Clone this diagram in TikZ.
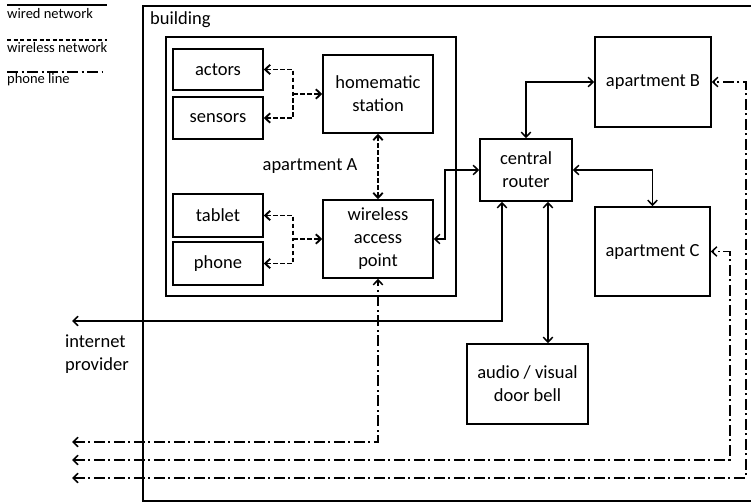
\documentclass[tikz,border=0pt]{standalone}
\usepackage{fontspec}
\setmainfont{Carlito}
\usetikzlibrary{arrows.meta}
\newcommand\diagfont{\fontsize{18.5}{23}\selectfont}
\newcommand\legfont{\fontsize{14.5}{17}\selectfont}
\begin{document}
\begin{tikzpicture}[x=1pt,y=-1pt,
  >={Straight Barb[length=5pt,width=9.5pt]},
  box/.style={draw,line width=1.6pt,align=center,inner sep=0pt,font=\diagfont},
  wd/.style={line width=1.5pt},
  wl/.style={line width=1.9pt,dash pattern=on 4.5pt off 2.5pt},
  pl/.style={line width=1.5pt,dash pattern=on 11pt off 3.5pt on 2pt off 3.5pt},
  txt/.style={inner sep=0pt,font=\diagfont},
  leg/.style={inner sep=0pt,font=\legfont,anchor=west}]
\useasboundingbox[fill=white] (0,0) rectangle (751,503);
% legend
\node[leg] (lwired) at (7,14) {wired network};
\node[leg] (lwless) at (7,48) {wireless network};
\node[leg] (lphone) at (7,80) {phone line};
\draw[line width=1.3pt] (7,5) -- (107,5);
\draw[line width=1.3pt,dash pattern=on 4pt off 2.5pt] (7,40) -- (107,40);
\draw[line width=1.3pt,dash pattern=on 11pt off 3.5pt on 2pt off 3.5pt] (7,72) -- (103,72);
% building
\draw[line width=1.6pt] (752,6) -- (143,6) -- (143,501) -- (752,501);
\node[txt,anchor=west] (bldg) at (150,20) {building};
% apartment A
\node[box,minimum width=290pt,minimum height=259pt] (aptA) at (311,166.5) {};
\node[txt] (aptAlbl) at (310,166) {apartment A};
\node[box,minimum width=90pt,minimum height=41pt] (actors) at (218,69.5) {actors};
\node[box,minimum width=90pt,minimum height=42pt] (sensors) at (218,118) {sensors};
\node[box,minimum width=90pt,minimum height=43pt] (tablet) at (218,215.5) {tablet};
\node[box,minimum width=90pt,minimum height=43pt] (phone) at (218,263.5) {phone};
\node[box,minimum width=110pt,minimum height=78pt] (hm) at (378,94) {homematic\\station};
\node[box,minimum width=110pt,minimum height=78pt] (wap) at (378,239) {wireless\\access\\point};
% others
\node[box,minimum width=92pt,minimum height=62pt] (router) at (526,170) {central\\router};
\node[box,minimum width=116pt,minimum height=90pt] (aptB) at (653,82) {apartment B};
\node[box,minimum width=115pt,minimum height=89pt] (aptC) at (652.5,251.5) {apartment C};
\node[box,minimum width=121pt,minimum height=80pt] (bell) at (527.5,384) {audio / visual\\door bell};
\node[txt,align=left,anchor=west] (inettxt) at (65,354.5) {internet\\provider};
% coordinates
\coordinate (jA) at (293,94);
\coordinate (jB) at (293,239);
\coordinate (inet) at (72,321);
\coordinate (p1) at (72,442);
\coordinate (p2) at (72,460);
\coordinate (p3) at (72,478);
\coordinate (cC) at ([xshift=19pt]aptC.east);
\coordinate (cB) at ([xshift=34pt]aptB.east);
% wireless links
\draw[wl,<-] (actors.east) -| (jA);
\draw[wl,<-] (sensors.east) -| (jA);
\draw[wl,->] (jA) -- (hm.west);
\draw[wl,<-] (tablet.east) -| (jB);
\draw[wl,<-] (phone.east) -| (jB);
\draw[wl,->] (jB) -- (wap.west);
\draw[wl,<->] (hm.south) -- (wap.north);
% wired links
\draw[wd,<->] (router.west) -- ++(-34,0) |- (wap.east);
\draw[wd,<->] (router.north) |- (aptB.west);
\draw[wd,<->] (router.east) -| (aptC.north);
\draw[wd,<->] ([xshift=22pt]router.south) -- ([xshift=22pt]router.south |- bell.north);
\draw[wd,<->] ([xshift=-24pt]router.south) |- (inet);
% phone lines
\draw[pl,<->] (p1) -| (wap.south);
\draw[pl,<->] (p2) -| (cC) -- (aptC.east);
\draw[pl,<->] (p3) -| (cB) -- (aptB.east);
\end{tikzpicture}
\end{document}
